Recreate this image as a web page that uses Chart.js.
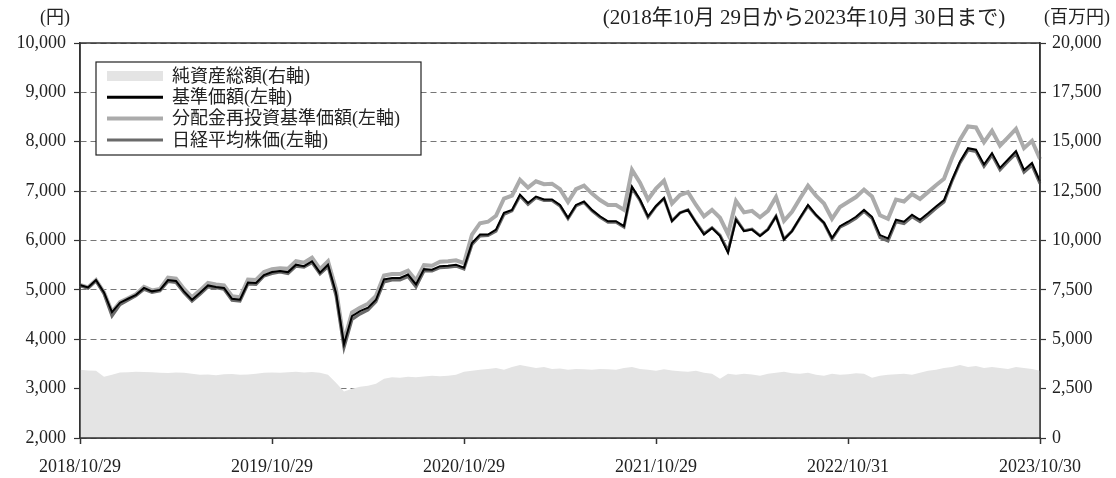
<!DOCTYPE html>
<html lang="ja">
<head>
<meta charset="utf-8">
<script src="https://cdn.jsdelivr.net/npm/chart.js@4.4.1/dist/chart.umd.min.js"></script>
<style>
  html, body { margin: 0; padding: 0; background: #fff; }
  #wrap { position: relative; width: 1116px; height: 478px; }
</style>
</head>
<body>
<div id="wrap"><canvas id="c"></canvas></div>
<script>
// period and x-axis labels
const startDate = '2018/10/29';
const endDate = '2023/10/30';
const tickLabels = ['2018/10/29', '2019/10/29', '2020/10/29', '2021/10/29', '2022/10/31', '2023/10/30'];
const tickIndex = [0, 24, 48, 72, 96, 120];

const seriesNames = ['純資産総額(右軸)', '基準価額(左軸)', '分配金再投資基準価額(左軸)', '日経平均株価(左軸)'];

// 純資産総額 (百万円), roughly twice a month
const netAssets = [
  3450, 3420, 3400, 3100, 3200, 3320, 3330, 3350, 3340, 3330, 3300,
  3290, 3320, 3300, 3250, 3200, 3220, 3180, 3230, 3240, 3200,
  3220, 3250, 3300, 3320, 3300, 3330, 3350, 3320, 3340, 3300,
  3200, 2800, 2350, 2500, 2600, 2650, 2750, 3000, 3080, 3050,
  3100, 3080, 3120, 3150, 3130, 3150, 3200, 3350, 3400, 3450,
  3500, 3550, 3450, 3600, 3700, 3620, 3550, 3600, 3500, 3520,
  3450, 3500, 3480, 3450, 3500, 3480, 3450, 3550, 3600, 3500,
  3450, 3400, 3480, 3420, 3380, 3350, 3400, 3300, 3250, 3000,
  3250, 3200, 3250, 3220, 3150, 3250, 3300, 3350, 3280, 3250,
  3300, 3200, 3150, 3250, 3200, 3230, 3280, 3250, 3050, 3150,
  3200, 3230, 3250, 3200, 3300, 3400, 3450, 3550, 3600, 3700,
  3600, 3650, 3550, 3600, 3550, 3500, 3600, 3550, 3500, 3400
];

// 基準価額 (円)
const nav = [
  5100, 5050, 5200, 4950, 4550, 4740, 4820, 4900, 5040, 4970, 5000,
  5200, 5180, 4970, 4800, 4940, 5090, 5060, 5040, 4820, 4800,
  5150, 5140, 5300, 5360, 5380, 5360, 5510, 5480, 5580, 5350,
  5510, 4940, 3900, 4470, 4570, 4640, 4800, 5210, 5240, 5240,
  5310, 5110, 5420, 5410, 5480, 5490, 5510, 5450, 5950, 6120,
  6120, 6220, 6560, 6620, 6930, 6760, 6890, 6830, 6830, 6720,
  6460, 6720, 6790, 6620, 6490, 6390, 6390, 6290, 7090, 6830,
  6490, 6700, 6860, 6390, 6560, 6620, 6360, 6120, 6250, 6090,
  5750, 6420, 6190, 6220, 6090, 6220, 6490, 6020, 6190, 6460,
  6720, 6520, 6360, 6050, 6290, 6380, 6480, 6620, 6480, 6110,
  6040, 6420, 6380, 6520, 6420, 6550, 6690, 6820, 7230, 7600,
  7870, 7840, 7540, 7770, 7470, 7640, 7810, 7430, 7570, 7200
];

// 分配金再投資基準価額 (円)
const navReinvest = [
  5100, 5050, 5200, 4950, 4550, 4750, 4830, 4910, 5060, 4990, 5020,
  5250, 5230, 5020, 4850, 4990, 5140, 5110, 5090, 4870, 4850,
  5210, 5200, 5360, 5420, 5440, 5430, 5580, 5550, 5650, 5420,
  5580, 5010, 3960, 4540, 4640, 4720, 4880, 5290, 5320, 5320,
  5390, 5190, 5500, 5490, 5570, 5580, 5600, 5540, 6120, 6350,
  6380, 6500, 6850, 6910, 7230, 7070, 7200, 7140, 7150, 7040,
  6780, 7040, 7110, 6950, 6820, 6720, 6720, 6620, 7430, 7170,
  6830, 7050, 7210, 6750, 6920, 6980, 6720, 6490, 6620, 6460,
  6130, 6800, 6570, 6600, 6470, 6600, 6880, 6400, 6580, 6850,
  7110, 6910, 6750, 6440, 6680, 6780, 6880, 7030, 6890, 6510,
  6440, 6830, 6790, 6940, 6840, 6980, 7120, 7250, 7670, 8040,
  8310, 8290, 7990, 8220, 7920, 8090, 8260, 7870, 8020, 7650
];

// 日経平均株価 (指数化, 円)
const nikkei = [
  5080, 5030, 5180, 4920, 4470, 4700, 4790, 4880, 5010, 4950, 4980,
  5170, 5150, 4940, 4770, 4910, 5060, 5040, 5010, 4790, 4770,
  5120, 5110, 5280, 5330, 5360, 5330, 5480, 5460, 5550, 5320,
  5470, 4880, 3830, 4400, 4510, 4590, 4760, 5160, 5200, 5200,
  5270, 5060, 5380, 5380, 5450, 5460, 5480, 5420, 5920, 6090,
  6100, 6190, 6530, 6600, 6900, 6730, 6870, 6810, 6810, 6700,
  6440, 6700, 6770, 6600, 6470, 6370, 6370, 6270, 7060, 6810,
  6470, 6690, 6850, 6400, 6560, 6620, 6370, 6140, 6260, 6110,
  5790, 6440, 6200, 6230, 6100, 6230, 6490, 6030, 6190, 6450,
  6700, 6510, 6350, 6030, 6270, 6350, 6450, 6590, 6450, 6060,
  5990, 6380, 6340, 6480, 6380, 6510, 6650, 6780, 7200, 7570,
  7830, 7800, 7500, 7730, 7430, 7600, 7760, 7380, 7520, 7150
];

// category dates spread across the period
const t0 = Date.parse(startDate), t1 = Date.parse(endDate);
const dates = nav.map((_, i) => {
  const d = new Date(t0 + (t1 - t0) * i / (nav.length - 1));
  return d.getFullYear() + '/' + (d.getMonth() + 1) + '/' + d.getDate();
});

const FONT = 'Liberation Serif, "Noto Sans CJK JP", serif';
const fmt = v => Number(v).toLocaleString('en-US');

const colors = ['#e4e4e4', '#000000', '#ababab', '#6a6a6a'];
const widths = [10, 2, 4, 3];

const frameAndText = {
  id: 'frameAndText',
  afterDatasetsDraw(chart) {
    const { ctx, chartArea: a } = chart;
    ctx.save();
    ctx.strokeStyle = '#333';
    ctx.lineWidth = 1.5;
    ctx.strokeRect(a.left, a.top, a.right - a.left, a.bottom - a.top);
    ctx.restore();
  },
  afterDraw(chart) {
    const { ctx } = chart;
    ctx.save();
    ctx.fillStyle = '#222';
    ctx.textBaseline = 'middle';
    ctx.font = '18px ' + FONT;
    ctx.textAlign = 'center';
    ctx.fillText('(円)', 55, 18);
    ctx.fillText('(百万円)', 1077, 18);
    ctx.font = '21px ' + FONT;
    ctx.fillText('(2018年10月 29日から2023年10月 30日まで)', 804, 18);

    // legend box
    const bx = 96, by = 62, bw = 325, bh = 93;
    ctx.fillStyle = '#fff';
    ctx.fillRect(bx, by, bw, bh);
    ctx.strokeStyle = '#222';
    ctx.lineWidth = 1.2;
    ctx.strokeRect(bx, by, bw, bh);
    ctx.font = '18px ' + FONT;
    ctx.textAlign = 'left';
    seriesNames.forEach((name, i) => {
      const y = 76 + i * 21.3;
      if (i === 0) {
        ctx.fillStyle = colors[0];
        ctx.fillRect(107, y - 5, 56, 10);
      } else {
        ctx.strokeStyle = colors[i];
        ctx.lineWidth = widths[i] === 2 ? 3 : widths[i];
        ctx.beginPath();
        ctx.moveTo(107, y);
        ctx.lineTo(163, y);
        ctx.stroke();
      }
      ctx.fillStyle = '#222';
      ctx.fillText(name, 172, y + 1);
    });
    ctx.restore();
  }
};

new Chart(document.getElementById('c'), {
  type: 'line',
  data: {
    labels: dates,
    datasets: [
      { label: seriesNames[0], data: netAssets, yAxisID: 'y1', fill: 'start', backgroundColor: colors[0], borderWidth: 0, pointRadius: 0, order: 4 },
      { label: seriesNames[1], data: nav, yAxisID: 'y', borderColor: colors[1], borderWidth: widths[1], pointRadius: 0, fill: false, order: 1 },
      { label: seriesNames[2], data: navReinvest, yAxisID: 'y', borderColor: colors[2], borderWidth: widths[2], pointRadius: 0, fill: false, order: 3 },
      { label: seriesNames[3], data: nikkei, yAxisID: 'y', borderColor: colors[3], borderWidth: widths[3], pointRadius: 0, fill: false, order: 2 }
    ]
  },
  options: {
    responsive: true,
    maintainAspectRatio: false,
    animation: false,
    layout: { padding: { top: 43, left: 0, right: 0, bottom: 0 } },
    plugins: { legend: { display: false }, tooltip: { enabled: false } },
    elements: { line: { tension: 0 } },
    scales: {
      x: {
        type: 'category',
        offset: false,
        afterBuildTicks: s => { s.ticks = tickIndex.map(v => ({ value: v })); },
        afterFit: s => { s.height = 40; },
        ticks: {
          autoSkip: false, maxRotation: 0, padding: 12, color: '#222',
          font: { family: FONT, size: 18 },
          callback: v => tickLabels[tickIndex.indexOf(v)]
        },
        grid: { drawOnChartArea: false, tickLength: 6, tickColor: '#333', tickWidth: 1.5 },
        border: { color: '#333', width: 1.5 }
      },
      y: {
        position: 'left',
        min: 2000, max: 10000,
        afterFit: s => { s.width = 80; },
        ticks: { stepSize: 1000, padding: 8, color: '#222', font: { family: FONT, size: 18 }, callback: fmt },
        grid: { color: '#777', lineWidth: 1, tickLength: 6, tickColor: '#333', tickWidth: 1.2, tickBorderDash: [] },
        border: { color: '#333', width: 1.5, dash: [6, 4] }
      },
      y1: {
        position: 'right',
        min: 0, max: 20000,
        afterFit: s => { s.width = 76; },
        ticks: { stepSize: 2500, padding: 6, color: '#222', font: { family: FONT, size: 18 }, callback: fmt },
        grid: { drawOnChartArea: false, tickLength: 6, tickColor: '#333', tickWidth: 1.2 },
        border: { color: '#333', width: 1.5 }
      }
    }
  },
  plugins: [frameAndText]
});
</script>
</body>
</html>
